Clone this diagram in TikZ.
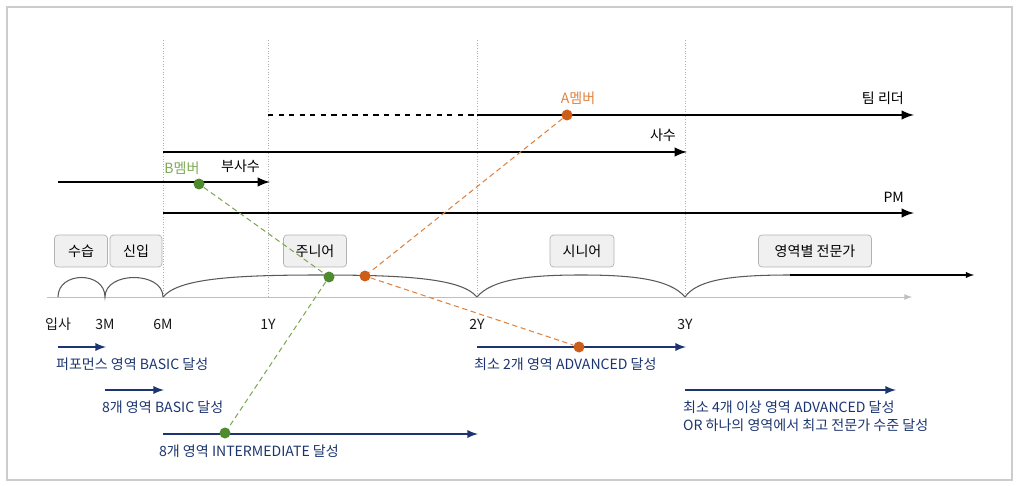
\documentclass[tikz,border=0pt]{standalone}
\usepackage{fontspec}
\setmainfont{Noto Sans CJK KR}
\usetikzlibrary{arrows, positioning, calc}

\definecolor{navy}{HTML}{1C3570}
\definecolor{amber}{HTML}{CC5E1A}
\definecolor{amberlt}{HTML}{E0823F}
\definecolor{leaf}{HTML}{4F8A2C}
\definecolor{leaflt}{HTML}{7DAA55}

\begin{document}
\begin{tikzpicture}[x=0.02cm,y=-0.02cm,
    txt/.style={inner sep=1pt,font=\fontsize{8}{10}\selectfont},
    stage/.style={rectangle,draw=gray!60,fill=gray!12,rounded corners=2pt,minimum height=0.64cm,inner sep=0pt,txt},
    role/.style={line width=1.4pt,black},
    goal/.style={-latex,line width=1.1pt,navy},
    goallbl/.style={txt,navy,anchor=west,align=left},
    guide/.style={gray!60,densely dotted,line width=0.5pt},
    dot/.style={circle,fill=#1,inner sep=0pt,minimum size=0.22cm},
    link/.style={densely dashed,line width=0.6pt,#1}]

    % frame
    \useasboundingbox (0,0) rectangle (1024,486);
    \draw[gray!40,line width=0.8pt] (7,7) rectangle (1012,480);

    % time axis
    \coordinate (axL) at (47,297);
    \coordinate (axR) at (912,297);
    \draw[guide,solid,gray!50,-latex] (axL) -- (axR);
    \foreach \x in {163,268,477,685}
        \draw[guide] (\x,40) -- (\x,297);

    % tick labels
    \node[txt,gray!20!black] (t0) at (58,324) {입사};
    \node[txt,gray!20!black] (t1) at (105,324) {3M};
    \node[txt,gray!20!black] (t2) at (163,324) {6M};
    \node[txt,gray!20!black] (t3) at (268,324) {1Y};
    \node[txt,gray!20!black] (t4) at (477,324) {2Y};
    \node[txt,gray!20!black] (t5) at (685,324) {3Y};

    % stage arcs
    \draw[gray!70!black,line width=0.6pt] (58,297) .. controls (58,271) and (105,271) .. (105,297)
        .. controls (105,271) and (163,271) .. (163,297);
    \draw[gray!70!black,line width=0.6pt] (163,297) .. controls (178,279) and (230,275) .. (320,275)
        .. controls (410,275) and (462,279) .. (477,297);
    \draw[gray!70!black,line width=0.6pt] (477,297) .. controls (492,279) and (530,275) .. (581,275)
        .. controls (632,275) and (670,279) .. (685,297);
    \coordinate (expS) at (790,275);
    \coordinate (expE) at (974,275);
    \draw[gray!70!black,line width=0.6pt] (685,297) .. controls (697,280) and (730,275) .. (expS);
    \draw[black,line width=0.6pt,-latex] (expS) -- (expE);

    % stages
    \node[stage,minimum width=1.06cm] (intern) at (81,251) {수습};
    \node[stage,minimum width=1.04cm] (newbie) at (136,251) {신입};
    \node[stage,minimum width=1.26cm] (junior) at (315,251) {주니어};
    \node[stage,minimum width=1.28cm] (senior) at (582,251) {시니어};
    \node[stage,minimum width=2.26cm] (expert) at (815,251) {영역별 전문가};

    % roles
    \coordinate (leadS) at (268,115);
    \coordinate (leadM) at (477,115);
    \coordinate (leadE) at (914,115);
    \draw[role,dashed] (leadS) -- (leadM);
    \draw[role,-latex] (leadM) -- (leadE);
    \node[txt,anchor=south east] (leadL) at (906,107) {팀 리더};

    \coordinate (mentS) at (163,152);
    \coordinate (mentE) at (687,152);
    \draw[role,-latex] (mentS) -- (mentE);
    \node[txt,anchor=south east] (mentL) at (678,144) {사수};

    \coordinate (subS) at (58,182);
    \coordinate (subE) at (270,182);
    \draw[role,-latex] (subS) -- (subE);
    \node[txt,anchor=south east] (subL) at (262,175) {부사수};

    \coordinate (pmS) at (163,213);
    \coordinate (pmE) at (914,213);
    \draw[role,-latex] (pmS) -- (pmE);
    \node[txt,anchor=south east] (pmL) at (906,205) {PM};

    % goals
    \coordinate (g1S) at (58,347);  \coordinate (g1E) at (106,347);
    \coordinate (g2S) at (105,390); \coordinate (g2E) at (164,390);
    \coordinate (g3S) at (163,434); \coordinate (g3E) at (478,434);
    \coordinate (g4S) at (477,347); \coordinate (g4E) at (686,347);
    \coordinate (g5S) at (685,390); \coordinate (g5E) at (896,390);
    \foreach \s/\e in {g1S/g1E,g2S/g2E,g3S/g3E,g4S/g4E,g5S/g5E}
        \draw[goal] (\s) -- (\e);
    \node[goallbl] (g1L) at (54,364) {퍼포먼스 영역 BASIC 달성};
    \node[goallbl] (g2L) at (100,407) {8개 영역 BASIC 달성};
    \node[goallbl] (g3L) at (157,451) {8개 영역 INTERMEDIATE 달성};
    \node[goallbl] (g4L) at (472,364) {최소 2개 영역 ADVANCED 달성};
    \node[goallbl] (g5L) at (681,416) {최소 4개 이상 영역 ADVANCED 달성\\OR 하나의 영역에서 최고 전문가 수준 달성};

    % member A
    \node[dot=amber] (a1) at (567,115) {};
    \node[dot=amber] (a2) at (365,276) {};
    \node[dot=amber] (a3) at (579,347) {};
    \node[txt,amberlt] (aL) at (578,98) {A멤버};
    \draw[link=amberlt] (a1) -- (a2) -- (a3);

    % member B
    \node[dot=leaf] (b1) at (199,184) {};
    \node[dot=leaf] (b2) at (329,277) {};
    \node[dot=leaf] (b3) at (225,433) {};
    \node[txt,leaflt] (bL) at (182,168) {B멤버};
    \draw[link=leaflt] (b1) -- (b2) -- (b3);
\end{tikzpicture}
\end{document}
